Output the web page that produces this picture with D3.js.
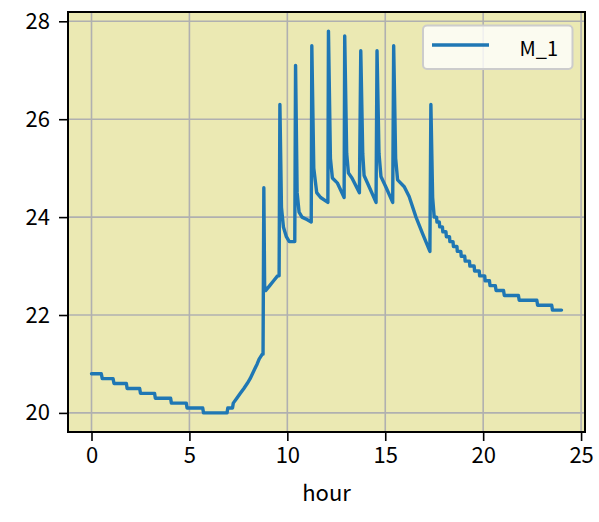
<!DOCTYPE html>
<meta charset="utf-8">
<style>
body { margin: 0; background: #fff; }
text { font-family: "Noto Sans CJK JP", "DejaVu Sans", sans-serif; }
</style>
<body>
<svg id="chart" width="599" height="522"></svg>
<script src="https://d3js.org/d3.v7.min.js"></script>
<script>
// hour / temperature
var hours = [0, 0.5, 0.55, 1.1, 1.15, 1.78, 1.82, 2.46, 2.5, 3.22, 3.26, 4.04, 4.08, 4.84, 4.88, 5.68, 5.72, 6.92,
  6.96, 7.2, 7.24, 7.42, 7.6, 7.78, 7.95, 8.1, 8.22, 8.34, 8.46, 8.56, 8.72, 8.76,
  8.8, 8.84, 8.9, 9.1, 9.3, 9.5, 9.58,
  9.62, 9.7, 9.8, 9.95, 10.1, 10.38,
  10.42, 10.5, 10.6, 10.75, 11.0, 11.22,
  11.25, 11.35, 11.5, 11.7, 12.07,
  12.1, 12.2, 12.3, 12.55, 12.9,
  12.93, 13.03, 13.12, 13.3, 13.68,
  13.75, 13.85, 13.92, 14.2, 14.53,
  14.58, 14.68, 14.78, 15.05, 15.38,
  15.43, 15.53, 15.63, 15.97, 16.22, 16.57, 16.9, 17.28,
  17.33, 17.42, 17.5, 17.62, 17.64, 17.76, 17.78, 17.92, 17.94, 18.1, 18.12, 18.28, 18.3, 18.46, 18.48,
  18.66, 18.68, 18.86, 18.88, 19.06, 19.08, 19.3, 19.32, 19.54, 19.56, 19.8, 19.82, 20.08, 20.1, 20.32,
  20.35, 20.62, 20.66, 21.04, 21.08, 21.8, 21.84, 22.74, 22.78, 23.5, 23.54, 24.0];
var temps = [20.8, 20.8, 20.7, 20.7, 20.6, 20.6, 20.5, 20.5, 20.4, 20.4, 20.3, 20.3, 20.2, 20.2, 20.1, 20.1, 20.0, 20.0,
  20.1, 20.1, 20.2, 20.3, 20.4, 20.5, 20.6, 20.7, 20.8, 20.9, 21.0, 21.1, 21.2, 21.2,
  24.6, 22.6, 22.5, 22.6, 22.7, 22.8, 22.8,
  26.3, 24.2, 23.8, 23.6, 23.5, 23.5,
  27.1, 24.5, 24.1, 24.0, 23.95, 23.9,
  27.5, 25.0, 24.5, 24.4, 24.3,
  27.8, 25.2, 24.8, 24.7, 24.4,
  27.7, 25.3, 24.9, 24.8, 24.5,
  27.4, 25.3, 24.85, 24.6, 24.3,
  27.4, 25.3, 24.83, 24.6, 24.3,
  27.5, 25.2, 24.76, 24.62, 24.42, 24.0, 23.67, 23.3,
  26.3, 24.4, 24.0, 24.0, 23.9, 23.9, 23.8, 23.8, 23.7, 23.7, 23.6, 23.6, 23.5, 23.5, 23.4,
  23.4, 23.3, 23.3, 23.2, 23.2, 23.1, 23.1, 23.0, 23.0, 22.9, 22.9, 22.8, 22.8, 22.7, 22.7,
  22.6, 22.6, 22.5, 22.5, 22.4, 22.4, 22.3, 22.3, 22.2, 22.2, 22.1, 22.1];
var xTicks = [0, 5, 10, 15, 20, 25];
var yTicks = [20, 22, 24, 26, 28];
var seriesName = "M_1";

var svg = d3.select("#chart");
var mLeft = 68, mRight = 585, mTop = 12, mBottom = 432;

var x = d3.scaleLinear().domain([-1.2, 25.2]).range([mLeft, mRight]);
var y = d3.scaleLinear().domain([19.61, 28.19]).range([mBottom, mTop]);

svg.append("rect")
    .attr("x", mLeft).attr("y", mTop)
    .attr("width", mRight - mLeft).attr("height", mBottom - mTop)
    .attr("fill", "#ebe9b3");

// grid
svg.append("g").selectAll("line").data(xTicks).enter().append("line")
    .attr("x1", d => x(d)).attr("x2", d => x(d))
    .attr("y1", mTop).attr("y2", mBottom)
    .attr("stroke", "#b0b0b0").attr("stroke-width", 1.6);
svg.append("g").selectAll("line").data(yTicks).enter().append("line")
    .attr("y1", d => y(d)).attr("y2", d => y(d))
    .attr("x1", mLeft).attr("x2", mRight)
    .attr("stroke", "#b0b0b0").attr("stroke-width", 1.6);

var line = d3.line()
    .x((d, i) => x(hours[i]))
    .y(d => y(d));

svg.append("path")
    .datum(temps)
    .attr("d", line)
    .attr("fill", "none")
    .attr("stroke", "#1f77b4")
    .attr("stroke-width", 3.4)
    .attr("stroke-linejoin", "round")
    .attr("stroke-linecap", "round");

// axes
var xAxis = svg.append("g")
    .attr("transform", "translate(0," + mBottom + ")")
    .call(d3.axisBottom(x).tickValues(xTicks).tickSize(9).tickPadding(6).tickFormat(d3.format("d")));
var yAxis = svg.append("g")
    .attr("transform", "translate(" + mLeft + ",0)")
    .call(d3.axisLeft(y).tickValues(yTicks).tickSize(9).tickPadding(9).tickFormat(d3.format("d")));
[xAxis, yAxis].forEach(function(g) {
  g.select(".domain").remove();
  g.selectAll("line").attr("stroke", "#000").attr("stroke-width", 1.6);
  g.selectAll("text").attr("fill", "#000").style("font-size", "22px")
      .style("font-family", '"Noto Sans CJK JP", sans-serif');
});

svg.append("rect")
    .attr("x", mLeft).attr("y", mTop)
    .attr("width", mRight - mLeft).attr("height", mBottom - mTop)
    .attr("fill", "none").attr("stroke", "#000").attr("stroke-width", 2);

svg.append("text")
    .attr("x", (mLeft + mRight) / 2).attr("y", 501)
    .attr("text-anchor", "middle")
    .style("font-size", "22px")
    .text("hour");

// legend
var lg = svg.append("g");
lg.append("rect")
    .attr("x", 423).attr("y", 25.5).attr("width", 149.5).attr("height", 43.5)
    .attr("rx", 4)
    .attr("fill", "#fff").attr("fill-opacity", 0.8)
    .attr("stroke", "#cccccc").attr("stroke-width", 2);
lg.append("line")
    .attr("x1", 432).attr("x2", 489).attr("y1", 45).attr("y2", 45)
    .attr("stroke", "#1f77b4").attr("stroke-width", 3.4);
lg.append("text")
    .attr("x", 558).attr("y", 55.5)
    .attr("text-anchor", "end")
    .style("font-size", "20px")
    .text(seriesName);
</script>
</body>
